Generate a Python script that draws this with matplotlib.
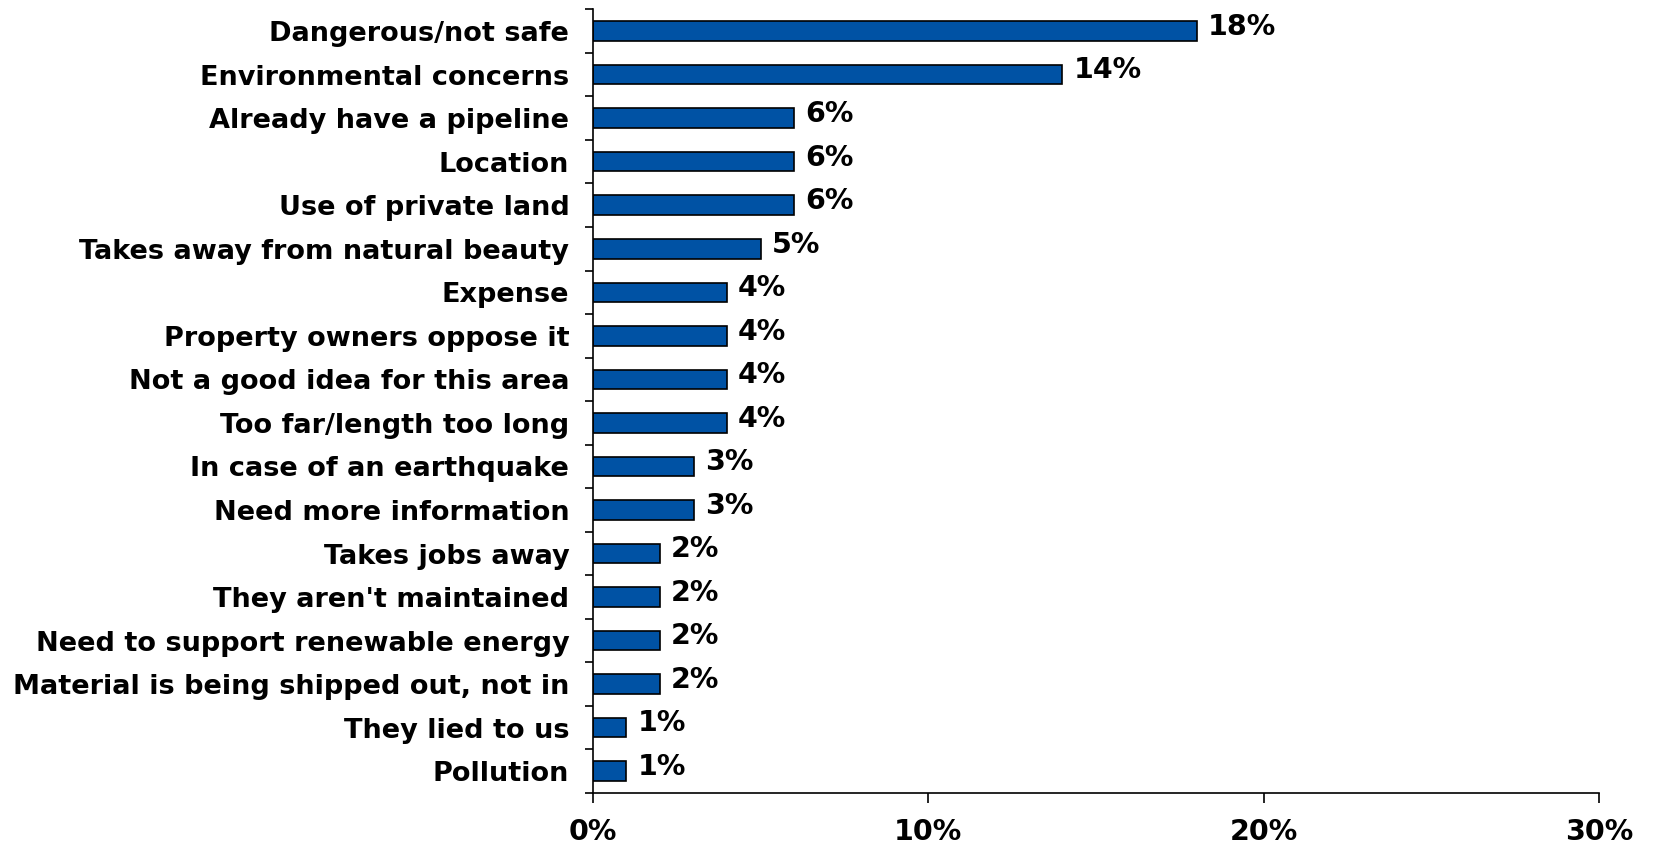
import matplotlib.pyplot as plt
import numpy as np
from matplotlib.ticker import FixedLocator, PercentFormatter

categories = [
    "Dangerous/not safe",
    "Environmental concerns",
    "Already have a pipeline",
    "Location",
    "Use of private land",
    "Takes away from natural beauty",
    "Expense",
    "Property owners oppose it",
    "Not a good idea for this area",
    "Too far/length too long",
    "In case of an earthquake",
    "Need more information",
    "Takes jobs away",
    "They aren't maintained",
    "Need to support renewable energy",
    "Material is being shipped out, not in",
    "They lied to us",
    "Pollution",
]
values = [18, 14, 6, 6, 6, 5, 4, 4, 4, 4, 3, 3, 2, 2, 2, 2, 1, 1]
x_ticks = [0, 10, 20, 30]

plt.rcParams["font.family"] = ["DejaVu Sans"]

fig = plt.figure(figsize=(16.53, 8.47), dpi=100)
ax = fig.add_axes([0.3587, 0.0638, 0.6086, 0.9252])

n = len(categories)
y = np.arange(n)
ax.barh(y, values, height=0.45, color="#0052A4", edgecolor="black", linewidth=1.2)

for yi, v in zip(y, values):
    ax.annotate(
        f"{v}%",
        xy=(v, yi),
        xytext=(8, 3),
        textcoords="offset points",
        ha="left",
        va="center",
        fontsize=20.5,
        fontweight="bold",
    )

ax.set_ylim(n - 0.5, -0.5)
ax.set_xlim(0, 30)

ax.set_yticks(y)
ax.set_yticklabels(categories, fontsize=19.5, fontweight="bold")
ax.yaxis.set_minor_locator(FixedLocator(np.arange(-0.5, n, 1)))
ax.tick_params(axis="y", which="major", length=0, pad=17)
ax.tick_params(axis="y", which="minor", length=6, width=1.2)

ax.set_xticks(x_ticks)
ax.xaxis.set_major_formatter(PercentFormatter(decimals=0))
ax.tick_params(axis="x", length=7, width=1.2, pad=11, labelsize=20.5)
for lbl in ax.get_xticklabels():
    lbl.set_fontweight("bold")

ax.spines["top"].set_visible(False)
ax.spines["right"].set_visible(False)
ax.spines["left"].set_linewidth(1.2)
ax.spines["bottom"].set_linewidth(1.2)

fig.savefig("out.png", dpi=100)
